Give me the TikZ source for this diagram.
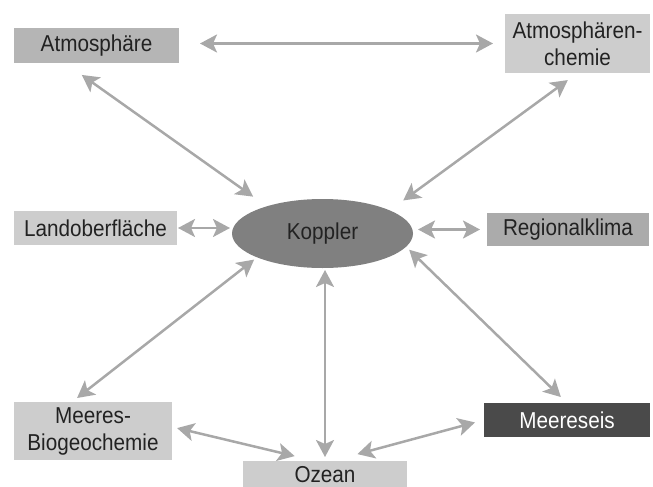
\documentclass[tikz,border=0pt]{standalone}
\usepackage{fontspec}
\setmainfont{Liberation Sans}[FakeStretch=0.9]
\usetikzlibrary{arrows.meta,shapes.geometric}
\definecolor{boxlight}{HTML}{CDCDCD}
\definecolor{boxmid}{HTML}{B5B5B5}
\definecolor{boxgray}{HTML}{ABABAB}
\definecolor{boxdark}{HTML}{4A4A4A}
\definecolor{couplerfill}{HTML}{808080}
\definecolor{linkgray}{HTML}{A8A8A8}
\definecolor{textgray}{HTML}{222222}
\tikzset{
  box/.style     = {rectangle,inner sep=0pt,outer sep=0pt,align=center,
                    text=textgray,font=\fontsize{23}{27}\selectfont},
  coupler/.style = {ellipse,inner sep=0pt,outer sep=0pt,fill=couplerfill,
                    text=textgray,font=\fontsize{23}{27}\selectfont},
  link/.style    = {{Stealth[length=17pt,width=18pt,inset=4pt]}-{Stealth[length=17pt,width=18pt,inset=4pt]},
                    line width=2.5pt,linkgray}
}

\begin{document}
\begin{tikzpicture}[x=1pt,y=-1pt]
  \useasboundingbox (0,0) rectangle (653,487);
  % components
  \node[box,fill=boxmid,minimum width=165pt,minimum height=35pt]   (atm)   at (96.5,45.5)  {Atmosphäre};
  \node[box,fill=boxlight,minimum width=145pt,minimum height=59pt] (chem)  at (577.5,43.5) {Atmosphären-\\chemie};
  \node[box,fill=boxlight,minimum width=163pt,minimum height=34pt] (land)  at (95.5,228)   {Landoberfläche};
  \node[box,fill=boxgray,minimum width=162pt,minimum height=33pt]  (reg)   at (568,229.5)  {Regionalklima};
  \node[coupler,minimum width=181pt,minimum height=69pt]           (kop)   at (322.5,233.5) {Koppler};
  \node[box,fill=boxlight,minimum width=158pt,minimum height=58pt] (bio)   at (93,431)     {Meeres-\\Biogeochemie};
  \node[box,fill=boxlight,minimum width=164pt,minimum height=28pt] (ozean) at (325,475)    {Ozean};
  \node[box,fill=boxdark,text=white,minimum width=166pt,minimum height=34pt] (eis) at (567,420) {Meereseis};
  % couplings
  \draw[link,shorten <=21pt,shorten >=12pt]     (chem.west -| atm.east) -- (chem.west);
  \draw[link,shorten <=20.6pt,shorten >=16.7pt] (atm.209.3) -- (kop.154.8);
  \draw[link,shorten <=12pt,shorten >=16.8pt]   (chem.south) -- (kop.19.8);
  \draw[link,shorten <=1pt,shorten >=2pt]       (land.east) -- (land.east -| kop.west);
  \draw[link,shorten <=5pt,shorten >=7pt]       (reg.west -| kop.east) -- (reg.west);
  \draw[link,shorten <=3.7pt,shorten >=6.5pt]   (kop.200.5) -- (bio.126.2);
  \draw[link,shorten <=2pt,shorten >=4pt]       (kop.south -| ozean.north) -- (ozean.north);
  \draw[link,shorten <=4.3pt,shorten >=8.6pt]   (kop.351.6) -- (eis.north);
  \draw[link,shorten <=5.2pt,shorten >=21.1pt]  (bio.3) -- (ozean.125);
  \draw[link,shorten <=9.3pt,shorten >=26.5pt]  (eis.west) -- (ozean.64);
\end{tikzpicture}
\end{document}
